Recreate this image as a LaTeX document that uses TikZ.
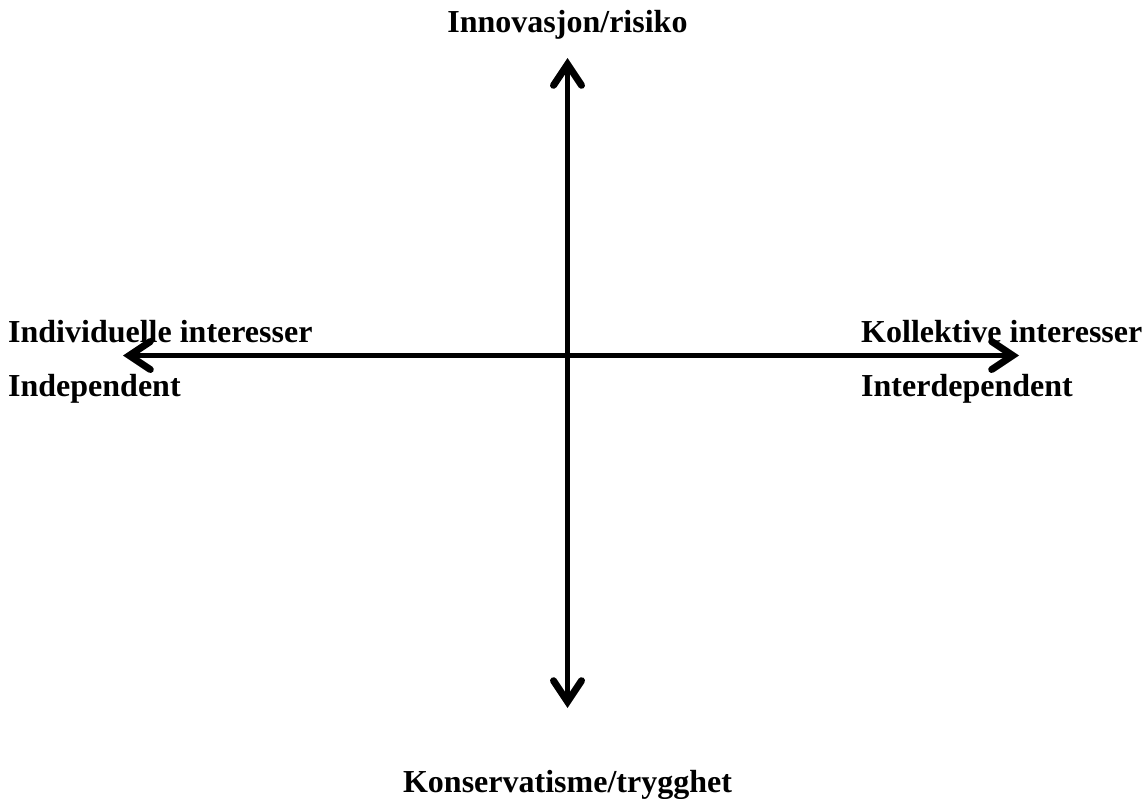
\documentclass[tikz,border=0pt]{standalone}
\usepackage{fontspec}
\setmainfont{Liberation Serif}
\usetikzlibrary{arrows.meta}
\begin{document}
\begin{tikzpicture}[x=1pt,y=-1pt,
  tip/.tip={Straight Barb[length=21pt,width=28pt,line width=7pt,line cap=round,line join=miter]},
  axis/.style={line width=5.5pt, tip-tip},
  lbl/.style={inner sep=0pt, font=\fontsize{32}{38}\selectfont\bfseries}]
\useasboundingbox (0,0) rectangle (1146,798);
\coordinate (top) at (567.5,58);
\coordinate (bot) at (567.5,708);
\coordinate (lft) at (123,355.5);
\coordinate (rgt) at (1019,355.5);
\draw[axis] (bot) -- (top);
\draw[axis] (lft) -- (rgt);
\node[lbl, anchor=base] (n1) at (567.5,32) {Innovasjon/risiko};
\node[lbl, anchor=base] (n2) at (567.5,792) {Konservatisme/trygghet};
\node[lbl, anchor=base west] (n3) at (8,342) {Individuelle interesser};
\node[lbl, anchor=base west] (n4) at (8,396) {Independent};
\node[lbl, anchor=base west] (n5) at (861,342) {Kollektive interesser};
\node[lbl, anchor=base west] (n6) at (861,396) {Interdependent};
\end{tikzpicture}
\end{document}
